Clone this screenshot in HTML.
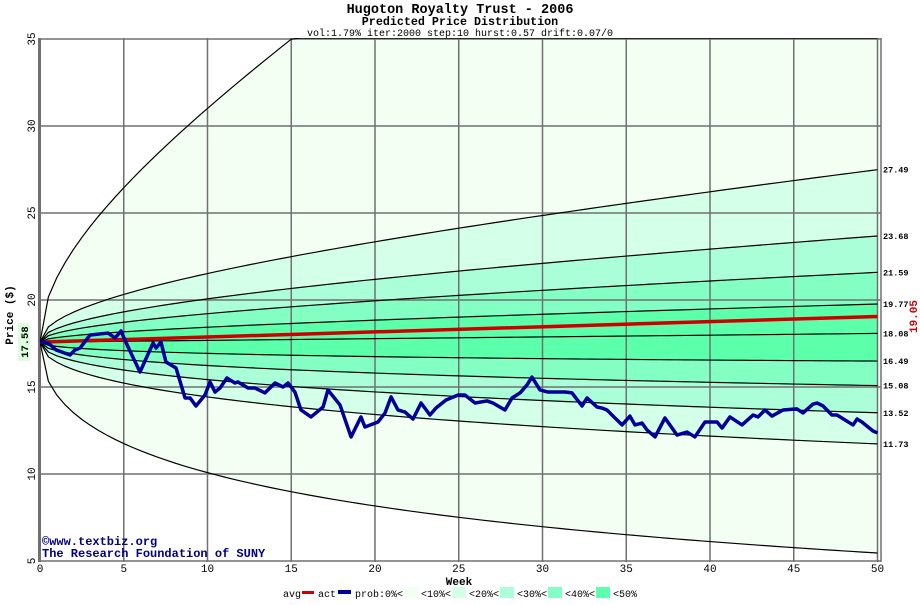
<!DOCTYPE html>
<html><head><meta charset="utf-8"><style>
body{margin:0;background:#fff;width:920px;height:600px;overflow:hidden}
svg text{font-family:"Liberation Mono","DejaVu Sans Mono",monospace}
</style></head><body>
<svg id="chart" width="920" height="600" xmlns="http://www.w3.org/2000/svg">
<text x="460" y="13" text-anchor="middle" font-size="13.5" font-weight="bold">Hugoton Royalty Trust - 2006</text>
<text x="460" y="25" text-anchor="middle" font-size="11.7" font-weight="bold">Predicted Price Distribution</text>
<text x="460" y="36" text-anchor="middle" font-size="10">vol:1.79% iter:2000 step:10 hurst:0.57 drift:0.07/0</text>
<g id="bands"></g><g id="grid"></g><g id="lines"></g>
<text x="42" y="545" font-size="12" font-weight="bold" fill="#000080">©www.textbiz.org</text>
<text x="42" y="557" font-size="12" font-weight="bold" fill="#000080">The Research Foundation of SUNY</text>
<text transform="translate(13,315) rotate(-90)" text-anchor="middle" font-size="11" font-weight="bold">Price ($)</text>
<text x="459" y="585" text-anchor="middle" font-size="11" font-weight="bold">Week</text>
<g id="legend" font-size="10"></g>
</svg>
<script>
const startPrice = 17.58;
const avgEnd = 19.05;
const medianEnd = 18.08;
const bandFinals = [27.49, 23.68, 21.59, 19.77, 18.08, 16.49, 15.08, 13.52, 11.73];
const outerLowFinal = 5.46;
const bandColors = ["#f3fff3", "#d4ffe9", "#aaffd8", "#84ffc4", "#5cffaa"];
const legendLabels = ["prob:0%<", "<10%<", "<20%<", "<30%<", "<40%<", "<50%"];
const xTicks = [0,5,10,15,20,25,30,35,40,45,50];
const yTicks = [5,10,15,20,25,30,35];
const actWeeks = [0,0.06,0.48,0.96,1.79,2.09,2.39,2.99,4.06,4.48,4.84,5.07,5.43,5.97,6.75,6.93,7.22,7.52,8.12,8.66,8.96,9.31,9.85,10.15,10.45,10.75,11.16,11.64,11.82,12.42,12.84,13.43,14.03,14.51,14.81,15.22,15.58,16.18,16.9,17.19,17.91,18.57,19.16,19.4,20.18,20.6,20.96,21.37,21.79,22.27,22.75,23.28,23.64,24.24,24.96,25.37,25.97,26.69,27.04,27.76,28.18,28.66,29.07,29.37,29.85,30.33,30.87,31.34,31.76,32.36,32.66,33.25,33.55,33.85,34.21,34.75,35.22,35.52,35.94,36.24,36.72,37.31,38.03,38.63,39.1,39.7,40.42,40.72,41.19,41.91,42.57,42.87,43.28,43.7,44.36,45.19,45.55,46.15,46.39,46.75,47.28,47.58,48.54,48.78,49.07,49.73,50];
const actPrices = [17.58,17.59,17.53,17.13,16.84,17.13,17.24,17.99,18.1,17.82,18.22,17.7,16.95,15.86,17.53,17.24,17.59,16.44,16.09,14.37,14.37,13.91,14.54,15.29,14.71,14.94,15.52,15.23,15.29,14.94,14.94,14.66,15.23,15,15.23,14.71,13.68,13.28,13.85,14.83,13.97,12.13,13.28,12.7,12.99,13.51,14.43,13.68,13.56,13.16,14.08,13.39,13.79,14.25,14.54,14.54,14.08,14.2,14.08,13.68,14.37,14.66,15.11,15.57,14.83,14.71,14.71,14.71,14.66,13.91,14.37,13.85,13.79,13.68,13.33,12.82,13.33,12.82,12.93,12.53,12.13,13.22,12.24,12.41,12.13,12.99,12.99,12.64,13.28,12.82,13.39,13.28,13.68,13.33,13.68,13.74,13.51,14.02,14.08,13.91,13.39,13.39,12.82,13.16,12.99,12.47,12.36];

const NS="http://www.w3.org/2000/svg";
const X0=40, X1=877.5, Y35=39, PPU=17.4;
const xs=w=>X0+(X1-X0)*w/50;
const ys=p=>Y35+(35-p)*PPU;
const H=0.47, D=Math.log(medianEnd/startPrice);
function mk(tag,attrs,parent){const e=document.createElementNS(NS,tag);for(const k in attrs)e.setAttribute(k,attrs[k]);parent.appendChild(e);return e;}
function curve(fin,t){const z=Math.log(fin/startPrice)-D;return startPrice*Math.exp(D*t/50+z*Math.pow(t/50,H));}
const zLow=Math.log(outerLowFinal/startPrice)-D;
const outerHighFinal=startPrice*Math.exp(D-zLow);
const finals=[outerHighFinal].concat(bandFinals).concat([outerLowFinal]);
const steps=[];for(let t=0;t<=50.001;t+=0.5)steps.push(t);
function pts(fin){return steps.map(t=>[xs(t),Math.max(ys(curve(fin,t)),38)]);}
const svg=document.getElementById('chart');
const defs=mk('defs',{},svg);
const cp=mk('clipPath',{id:'plotclip'},defs);
mk('rect',{x:X0,y:38,width:881-X0,height:562-38},cp);
const bands=document.getElementById('bands');bands.setAttribute('clip-path','url(#plotclip)');
const curvesPts=finals.map(pts);
for(let i=0;i<finals.length-1;i++){
  const a=curvesPts[i], b=curvesPts[i+1].slice().reverse();
  const lvl=Math.min(i,finals.length-2-i);
  const poly=mk('polygon',{points:a.concat(b).map(p=>p.join(',')).join(' '),fill:bandColors[lvl]},bands);
  
  
}
const ext=mk('rect',{x:X1,y:38,width:881-X1,height:ys(outerLowFinal)-38,fill:bandColors[0]},bands);


const grid=document.getElementById('grid');
xTicks.forEach(w=>{
  if(w>0){const l=mk('line',{x1:xs(w),x2:xs(w),y1:38,y2:562,stroke:'#707070','stroke-width':1.5},grid);
  }
  const t=mk('text',{x:xs(w),y:572,'text-anchor':'middle','font-size':11},grid);t.textContent=w;
  
});
yTicks.forEach(p=>{
  const l=mk('line',{x1:X0,x2:881,y1:ys(p),y2:ys(p),stroke:'#707070','stroke-width':1.5},grid);
  
  const t=mk('text',{transform:`translate(35,${ys(p)}) rotate(-90)`,'text-anchor':'middle','font-size':11},grid);t.textContent=p;
  
});
const ax=mk('line',{x1:X0-0.5,x2:X0-0.5,y1:38,y2:562,stroke:'#707070','stroke-width':3},grid);

const rb=mk('line',{x1:881,x2:881,y1:38,y2:562,stroke:'#707070','stroke-width':1.5},grid);

const lines=document.getElementById('lines');
const lg=mk('g',{'clip-path':'url(#plotclip)'},lines);
curvesPts.forEach((c,i)=>{
  const pl=mk('polyline',{points:c.map(p=>p.join(',')).join(' '),fill:'none',stroke:'#000','stroke-width':1.2},lg);
  
  
});
const avg=mk('line',{x1:xs(0),y1:ys(startPrice),x2:xs(50),y2:ys(avgEnd),stroke:'#cc0000','stroke-width':3.5},lines);


const act=mk('polyline',{points:actWeeks.map((w,i)=>xs(w)+','+ys(actPrices[i])).join(' '),fill:'none',stroke:'#000099','stroke-width':3.5,'stroke-linejoin':'round'},lines);


bandFinals.forEach(v=>{
  const t=mk('text',{x:883,y:ys(v)+3,'font-size':8.5,'font-weight':'bold'},lines);t.textContent=v.toFixed(2);
  
});
const ae=mk('text',{transform:`translate(917,${ys(avgEnd)}) rotate(-90)`,'text-anchor':'middle','font-size':11,'font-weight':'bold',fill:'#cc0000'},lines);ae.textContent=avgEnd.toFixed(2);

const sb=mk('rect',{x:18,y:ys(startPrice)-19,width:12,height:38,fill:'#ddffdd'},lines);

const sl=mk('text',{transform:`translate(28,${ys(startPrice)}) rotate(-90)`,'text-anchor':'middle','font-size':10.5,'font-weight':'bold'},lines);sl.textContent=startPrice.toFixed(2);

const leg=document.getElementById('legend');
function lt(x,s,n){const t=mk('text',{x:x,y:597},leg);t.textContent=s;}
function sw(x,w,h,y,c,n){const r=mk('rect',{x:x,y:y,width:w,height:h,fill:c},leg);}
lt(283,'avg','legend-avg-label');sw(302,12,3,591,'#cc0000','legend-avg-swatch');
lt(318,'act','legend-act-label');sw(338,13,4,590,'#000099','legend-act-swatch');
const lx=[355,421,469,517,565,613], sx=[405,452,500,548,596];
legendLabels.forEach((s,i)=>{lt(lx[i],s,'legend-prob-label');if(i<5)sw(sx[i],14,11,587,bandColors[i],'legend-prob-swatch');});
</script>
</body></html>
